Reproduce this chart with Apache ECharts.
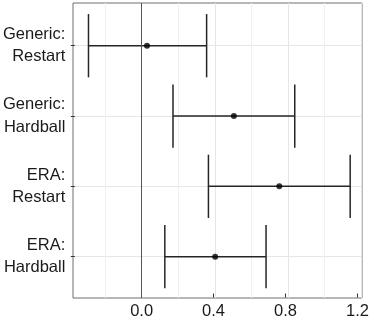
<!DOCTYPE html>
<html>
<head>
<meta charset="utf-8">
<script src="https://cdn.jsdelivr.net/npm/echarts@6/dist/echarts.min.js"></script>
<style>html,body{margin:0;padding:0;background:#fff}#c{width:372px;height:320px}</style>
</head>
<body>
<div id="c"></div>
<script>
const categories = ['Generic: Restart', 'Generic: Hardball', 'ERA: Restart', 'ERA: Hardball'];
const estimates = [0.022, 0.50, 0.75, 0.397];
const lower = [-0.30, 0.165, 0.36, 0.12];
const upper = [0.35, 0.835, 1.14, 0.677];
const xMin = -0.375, xMax = 1.205;

const FONT = 'Liberation Sans, Arial, Helvetica, sans-serif';
const chart = echarts.init(document.getElementById('c'), null, {renderer: 'canvas'});

const errData = categories.map((c, i) => [lower[i], upper[i], i]);
const ptData = categories.map((c, i) => [estimates[i], i]);

const hidden = {show: false};
chart.setOption({
  animation: false,
  grid: [
    {left: 73, right: 10, top: 3, bottom: 22, show: true, borderColor: '#6e6e6e', borderWidth: 1, backgroundColor: 'transparent'},
    {left: 105, right: 10.9, top: 3, bottom: 22},
    {left: 73, right: 10, top: 45.7, bottom: 63.3},
    {left: 141.6, right: 10.9, top: 3, bottom: 22}
  ],
  xAxis: [
    {gridIndex: 0, type: 'value', min: xMin, max: xMax, show: false},
    {gridIndex: 1, type: 'value', min: -0.2, max: 1.2, interval: 0.2,
      axisLine: hidden, axisTick: hidden, axisLabel: hidden,
      splitLine: {show: true, lineStyle: {color: ['#f0f0f0', '#e6e6e6'], width: 1}}},
    {gridIndex: 2, type: 'value', min: xMin, max: xMax, show: false},
    {gridIndex: 3, type: 'value', min: 0, max: 1.2, interval: 0.4,
      axisLine: {show: false, onZero: false}, splitLine: hidden,
      axisTick: {show: true, length: 4, lineStyle: {color: '#333', width: 1}},
      axisLabel: {show: true, margin: 9.5, fontSize: 16.5, fontFamily: FONT, color: '#1a1a1a',
        formatter: v => v.toFixed(1)}}
  ],
  yAxis: [
    {gridIndex: 0, type: 'value', min: 0, max: 1, show: false},
    {gridIndex: 1, type: 'value', min: 0, max: 1, show: false},
    {gridIndex: 2, type: 'category', data: categories, inverse: true, boundaryGap: false,
      axisLine: {show: false, onZero: false},
      axisTick: {show: true, length: 4, lineStyle: {color: '#333', width: 1}},
      splitLine: {show: true, lineStyle: {color: '#e6e6e6', width: 1}},
      axisLabel: {margin: 9.5, fontSize: 16.5, fontFamily: FONT, color: '#1a1a1a', lineHeight: 22.5, align: 'right',
        formatter: v => v.replace(': ', ':\n')}},
    {gridIndex: 3, type: 'value', min: 0, max: 1, show: false}
  ],
  series: [
    {type: 'line', xAxisIndex: 0, yAxisIndex: 0, data: [], silent: true,
      markLine: {silent: true, symbol: 'none', label: {show: false},
        lineStyle: {color: '#555', width: 1, type: 'solid'},
        data: [{xAxis: 0}]}},
    {type: 'custom', xAxisIndex: 2, yAxisIndex: 2, data: errData, clip: false,
      renderItem: function (params, api) {
        const lo = api.value(0), hi = api.value(1), idx = api.value(2);
        const pLo = api.coord([lo, idx]);
        const pHi = api.coord([hi, idx]);
        const step = Math.abs(api.coord([lo, 1])[1] - api.coord([lo, 0])[1]);
        const h = step * 0.45;
        const style = {stroke: '#262626', lineWidth: 1.5};
        return {type: 'group', children: [
          {type: 'line', shape: {x1: pLo[0], y1: pLo[1], x2: pHi[0], y2: pHi[1]}, style: style},
          {type: 'line', shape: {x1: pLo[0], y1: pLo[1] - h, x2: pLo[0], y2: pLo[1] + h}, style: style},
          {type: 'line', shape: {x1: pHi[0], y1: pHi[1] - h, x2: pHi[0], y2: pHi[1] + h}, style: style}
        ]};
      }},
    {type: 'scatter', xAxisIndex: 2, yAxisIndex: 2, data: ptData, symbol: 'circle', symbolSize: 6,
      itemStyle: {color: '#000'}, clip: false}
  ]
});
</script>
</body>
</html>
